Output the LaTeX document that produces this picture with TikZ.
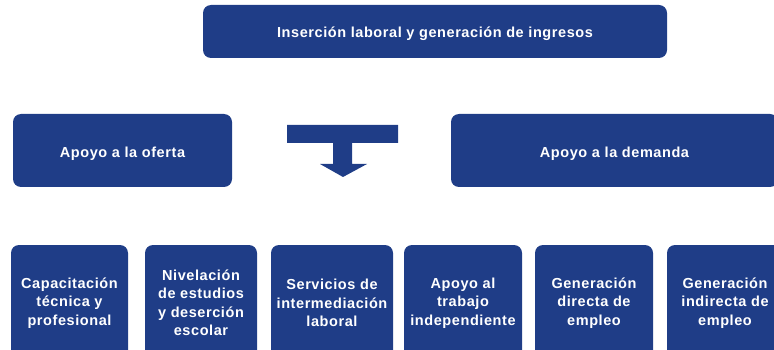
\documentclass[tikz,border=0pt]{standalone}
\usepackage{fontspec}
\setmainfont{Liberation Sans}
\newfontfamily\boxfont[LetterSpace=4]{Liberation Sans}
\definecolor{boxblue}{RGB}{31,61,135}
\tikzset{
  bx/.style={fill=boxblue, rounded corners=8pt, text=white, font=\boxfont\bfseries\fontsize{14.5}{18.5}\selectfont, align=center, inner sep=0pt, draw=none},
}
\begin{document}
\begin{tikzpicture}[x=1pt,y=-1pt]
\useasboundingbox (0,0) rectangle (774,350);
\clip (0,0) rectangle (774,350);
\node[bx, minimum width=464pt, minimum height=53pt, text height=11.6pt, text depth=0pt] (top) at (435,31.5) {Inserción laboral y generación de ingresos};
\node[bx, minimum width=219pt, minimum height=73pt, text height=15pt, text depth=0pt] (ofe) at (122.5,150.5) {Apoyo a la oferta};
\node[bx, minimum width=327pt, minimum height=73pt, text height=15pt, text depth=0pt] (dem) at (614.5,150.5) {Apoyo a la demanda};
\fill[boxblue] (287,125) -- (398,125) -- (398,143) -- (352,143) -- (352,164) -- (367,164) -- (343,177) -- (320,164) -- (333,164) -- (333,143) -- (287,143) -- cycle;
\node[bx, minimum width=117pt, minimum height=116pt] (b1) at (69.5,303) {Capacitación\\técnica y\\profesional};
\node[bx, minimum width=112pt, minimum height=116pt] (b2) at (201,303) {Nivelación\\de estudios\\y deserción\\escolar};
\node[bx, minimum width=122pt, minimum height=116pt] (b3) at (332,303) {Servicios de\\intermediación\\laboral};
\node[bx, minimum width=118pt, minimum height=116pt] (b4) at (463,303) {Apoyo al\\trabajo\\independiente};
\node[bx, minimum width=118pt, minimum height=116pt] (b5) at (594,303) {Generación\\directa de\\empleo};
\node[bx, minimum width=116pt, minimum height=116pt] (b6) at (725,303) {Generación\\indirecta de\\empleo};
\end{tikzpicture}
\end{document}
